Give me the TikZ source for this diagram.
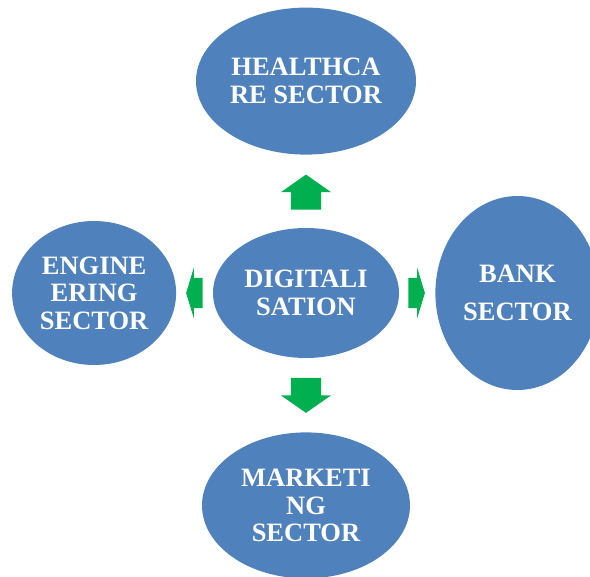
\documentclass[tikz,border=0pt]{standalone}
\usepackage{fontspec}
\setmainfont{Liberation Serif}
\usetikzlibrary{shapes.geometric,shapes.arrows,positioning}
\definecolor{sectorblue}{RGB}{79,129,189}
\definecolor{arrowgreen}{RGB}{0,176,80}
\tikzset{font={\fontsize{26.5pt}{27.5pt}\selectfont\bfseries}}
\tikzset{
  sector/.style={ellipse, fill=sectorblue, text=white, align=center, inner sep=0pt},
  blockarrow/.style={single arrow, fill=arrowgreen, single arrow head extend=10pt},
  vertarrow/.style={blockarrow, inner xsep=15pt, inner ysep=0pt, minimum height=35pt,
    single arrow tip angle=110},
  horzarrow/.style={blockarrow, inner xsep=0pt, inner ysep=15pt, minimum height=16.5pt,
    single arrow tip angle=146}
}

\begin{document}
\begin{tikzpicture}[x=1pt,y=-1pt]
  \useasboundingbox (0,0) rectangle (590,577);

  % Define nodes
  \node[sector, minimum width=186pt, minimum height=130pt] (dig) at (306,293) {DIGITALI\\SATION};
  \node[sector, above=73pt of dig, minimum width=220pt, minimum height=147pt] (health) {HEALTHCA\\RE SECTOR};
  \node[sector, left=36.5pt of dig, minimum width=164pt, minimum height=144pt] (eng) {ENGINE\\ERING\\SECTOR};
  \node[sector, right=36pt of dig, minimum width=164pt, minimum height=194pt] (bank) {BANK\\[11pt]SECTOR};
  \node[sector, below=74pt of dig, minimum width=208pt, minimum height=146pt] (mkt) {MARKETI\\NG\\SECTOR};

  % Block arrows
  \node[vertarrow, shape border rotate=90, anchor=tail] (toHealth) at ([yshift=18pt]dig.north) {};
  \node[vertarrow, shape border rotate=270, anchor=tail] (toMkt) at ([yshift=-19.5pt]dig.south) {};
  \node[horzarrow, shape border rotate=180, anchor=tail] (toEng) at ([xshift=-10pt]dig.west) {};
  \node[horzarrow, shape border rotate=0, anchor=tail] (toBank) at ([xshift=9pt]dig.east) {};
\end{tikzpicture}
\end{document}
